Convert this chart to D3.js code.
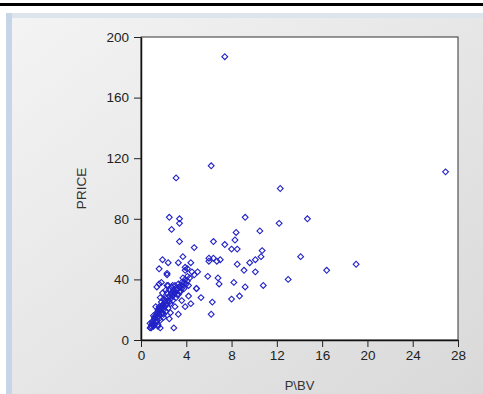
<!DOCTYPE html>
<html>
<head>
<meta charset="utf-8">
<script src="https://cdn.jsdelivr.net/npm/d3@7"></script>
<style>
  body { margin: 0; background: #fff; }
  svg { display: block; font-family: "Liberation Sans", Arial, sans-serif; }
</style>
</head>
<body>
<div id="chart"></div>
<script>
// Data: P\BV (x) against PRICE (y)
const pbv = [
  7.4, 6.2, 3.1, 26.9, 12.3,
  9.2, 12.2, 14.7, 10.5, 10.7, 10.6, 10.1, 9.6, 9.1, 10.1, 14.1, 16.4, 19.0, 13.0, 9.2, 10.8, 8.7,
  8.4, 8.3, 6.4, 7.4, 8.0, 8.5, 4.7,
  2.5, 3.4, 3.4, 2.7, 3.4, 3.7, 1.9, 2.4, 3.3, 4.4, 3.9, 1.6, 2.3,
  6.0, 6.4, 7.0, 6.7, 6.0, 8.5, 5.9, 6.8, 6.9, 8.2, 8.0, 4.9, 5.3, 6.3, 6.2,
  4.7, 5.0, 4.1, 4.1, 4.5, 4.3, 3.9, 3.7,
  4.4, 3.9, 3.6, 4.2, 3.3, 2.9, 1.4, 1.8, 2.3, 2.8, 3.2, 0.8, 1.7, 2.5,
  0.8, 0.9, 1.0, 1.0, 1.1, 1.2, 1.2, 1.3, 1.3, 1.4, 1.4, 1.5, 1.5, 1.6, 1.6, 1.7, 1.7, 1.8, 1.8, 1.9,
  1.9, 2.0, 2.0, 2.1, 2.1, 2.2, 2.2, 2.3, 2.3, 2.4, 2.4, 2.5, 2.5, 2.6, 2.6, 2.7, 2.7, 2.8, 2.8, 2.9,
  3.0, 3.0, 3.1, 3.2, 3.3, 3.3, 3.4, 3.5, 3.6, 3.7, 3.8, 3.9, 4.0, 4.1, 4.2, 1.1, 1.5, 2.0, 2.6, 3.0,
  1.3, 1.7, 2.2, 1.9, 2.4, 0.9, 1.5, 1.6, 2.3, 4.9,
  1.0, 1.1, 1.2, 1.4, 1.5, 1.6, 1.8, 1.9, 2.0, 2.1, 2.2, 2.4, 2.5, 2.7, 2.9, 3.1, 3.2, 3.5, 3.6, 3.8,
  1.2, 1.6, 2.0, 2.8, 3.4
];
const price = [
  187, 115, 107, 111, 100,
  81, 77, 80, 72, 59, 55, 53, 51, 46, 45, 55, 46, 50, 40, 35, 36, 29,
  71, 66, 65, 63, 60, 60, 61,
  81, 80, 77, 73, 65, 55, 53, 51, 51, 51, 48, 47, 43,
  54, 54, 53, 52, 52, 50, 42, 41, 37, 38, 27, 34, 28, 25, 17,
  43, 45, 42, 47, 45, 41, 46, 41,
  24, 22, 26, 29, 17, 8, 35, 38, 36, 36, 33, 11, 8, 14,
  8, 9, 10, 12, 9, 11, 14, 12, 16, 13, 18, 15, 20, 17, 22, 19, 13, 21, 25, 18,
  23, 20, 27, 22, 25, 19, 28, 24, 31, 26, 21, 29, 33, 27, 24, 31, 35, 29, 26, 33,
  31, 36, 28, 34, 30, 37, 35, 32, 38, 36, 34, 40, 37, 39, 36, 16, 10, 15, 18, 22,
  22, 28, 33, 31, 36, 8, 9, 37, 44, 34,
  11, 13, 15, 17, 19, 21, 17, 22, 24, 26, 23, 28, 25, 30, 30, 33, 30, 36, 34, 38,
  10, 14, 17, 32, 32
];
const xTicks = [0, 4, 8, 12, 16, 20, 24, 28];
const yTicks = [0, 40, 80, 120, 160, 200];

const width = 483, height = 394;
const plot = {left: 141, right: 458, top: 37, bottom: 340};

const svg = d3.select("#chart").append("svg")
    .attr("width", width)
    .attr("height", height);

// Window background
const defs = svg.append("defs");
const grad = defs.append("linearGradient")
    .attr("id", "bg")
    .attr("x1", "0").attr("y1", "0").attr("x2", "1").attr("y2", "1");
grad.append("stop").attr("offset", "0%").attr("stop-color", "#f4f4f4");
grad.append("stop").attr("offset", "100%").attr("stop-color", "#d9d9d9");

svg.append("rect").attr("x", 0).attr("y", 0).attr("width", width).attr("height", height).attr("fill", "#fff");
svg.append("rect").attr("x", 0).attr("y", 3).attr("width", width).attr("height", 3).attr("fill", "#000");
svg.append("rect").attr("x", 6).attr("y", 13).attr("width", width - 6).attr("height", height - 13).attr("fill", "url(#bg)");
svg.append("rect").attr("x", 6).attr("y", 13).attr("width", width - 6).attr("height", 5).attr("fill", "#dde4ec");
svg.append("rect").attr("x", 6).attr("y", 13).attr("width", 6).attr("height", height - 13).attr("fill", "#c6d6e8");

// Scales
const x = d3.scaleLinear().domain([0, 28]).range([plot.left, plot.right]);
const y = d3.scaleLinear().domain([0, 200]).range([plot.bottom, plot.top]);

// Plot area
svg.append("rect")
    .attr("x", x(0)).attr("y", y(200))
    .attr("width", x(28) - x(0)).attr("height", y(0) - y(200))
    .attr("fill", "#fff")
    .attr("stroke", "#333")
    .attr("stroke-width", 1);

// Axes
const xAxis = svg.append("g")
    .attr("transform", `translate(0,${plot.bottom})`)
    .call(d3.axisBottom(x).tickValues(xTicks).tickSize(7).tickSizeOuter(0).tickPadding(3));
const yAxis = svg.append("g")
    .attr("transform", `translate(${plot.left},0)`)
    .call(d3.axisLeft(y).tickValues(yTicks).tickSize(7).tickSizeOuter(0).tickPadding(5));

[xAxis, yAxis].forEach(g => {
    g.select(".domain").attr("stroke", "#111").attr("stroke-width", 1.5);
    g.selectAll(".tick line").attr("stroke", "#222");
    g.selectAll(".tick text")
        .attr("fill", "#222")
        .style("font-size", "13.5px")
        .style("font-family", "Liberation Sans, Arial, sans-serif");
});

// Points
const points = pbv.map((v, i) => ({pbv: v, price: price[i]}));
const diamond = d3.symbol().type(d3.symbolSquare).size(17);
svg.append("g")
    .selectAll("path")
    .data(points)
    .join("path")
    .attr("d", diamond)
    .attr("transform", d => `translate(${x(d.pbv)},${y(d.price)}) rotate(45)`)
    .attr("fill", "none")
    .attr("stroke", "#2222c8")
    .attr("stroke-width", 1.1);

// Axis titles
svg.append("text")
    .attr("transform", `translate(86,${(plot.top + plot.bottom) / 2}) rotate(-90)`)
    .attr("text-anchor", "middle")
    .attr("fill", "#333")
    .style("font-size", "13.5px")
    .text("PRICE");

svg.append("text")
    .attr("x", (plot.left + plot.right) / 2)
    .attr("y", 390)
    .attr("text-anchor", "middle")
    .attr("fill", "#333")
    .style("font-size", "13px")
    .text("P\\BV");
</script>
</body>
</html>
